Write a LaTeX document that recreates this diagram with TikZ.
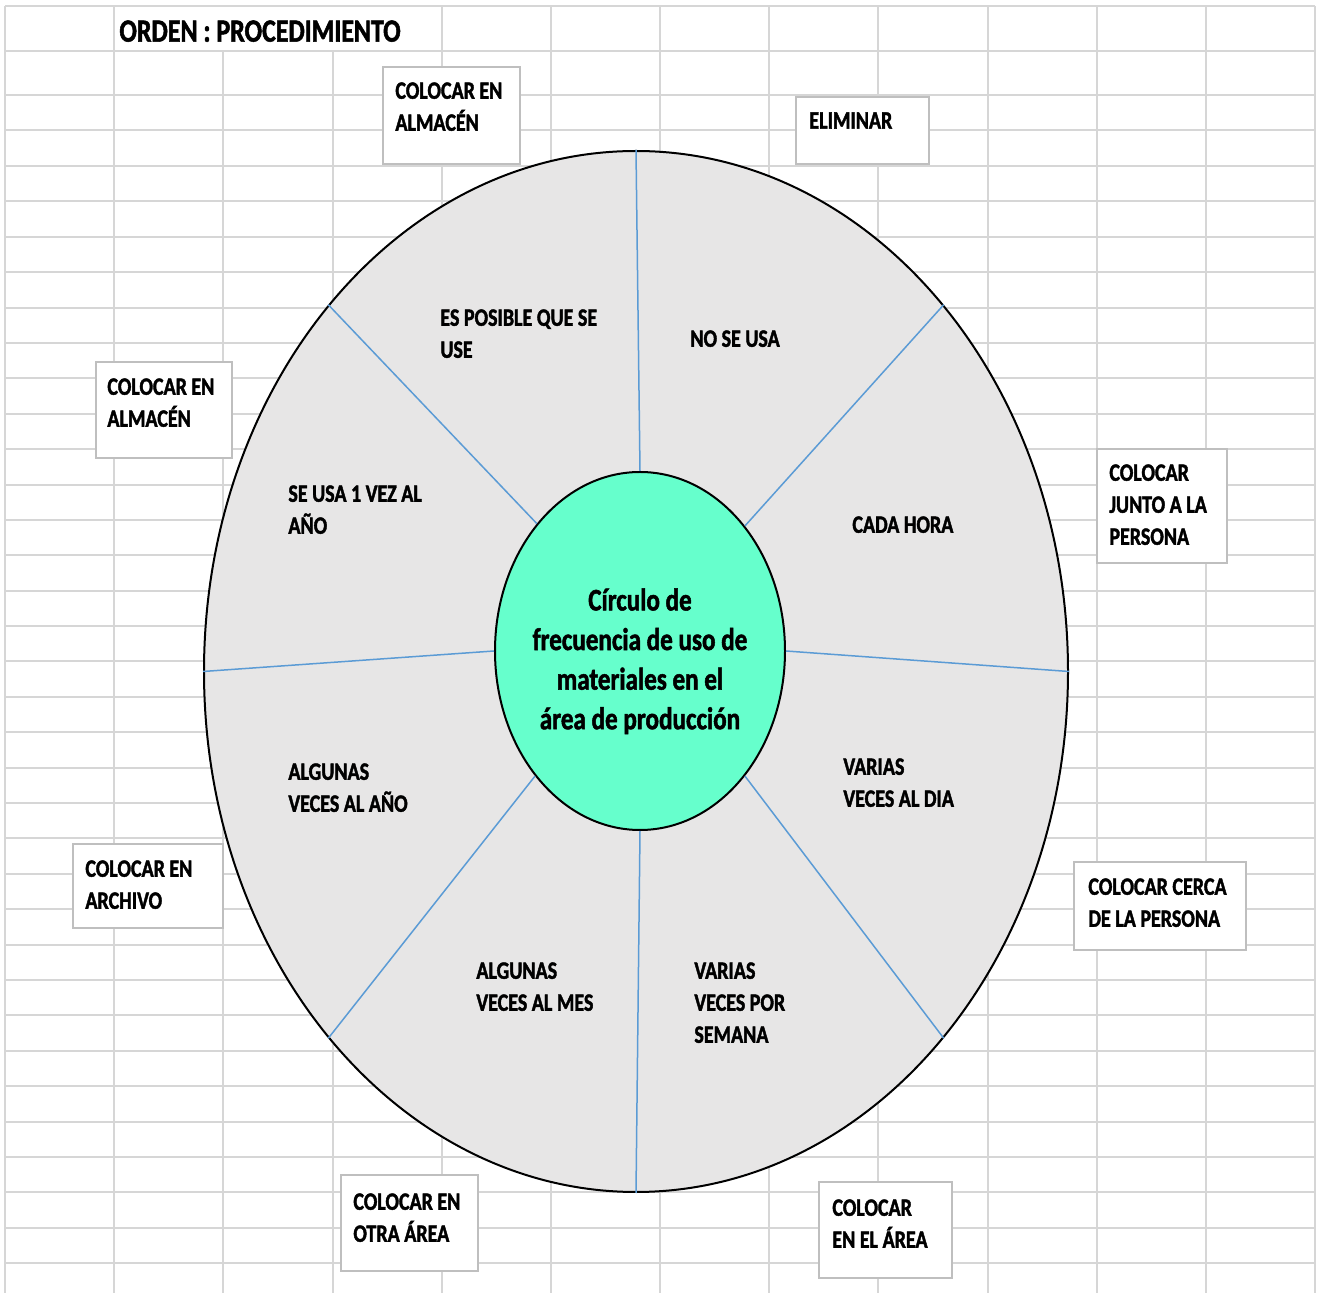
\documentclass[tikz,border=0pt]{standalone}
\usepackage{fontspec}
\setmainfont{Carlito}[FakeStretch=0.8, BoldFeatures={FakeBold=1.6}]
\usetikzlibrary{shapes.geometric,calc}
\definecolor{gridgray}{RGB}{214,214,214}
\definecolor{sectorgray}{RGB}{231,230,230}
\definecolor{hubgreen}{RGB}{102,255,204}
\definecolor{spokeblue}{RGB}{91,155,213}
\definecolor{boxgray}{RGB}{191,191,191}
\begin{document}
\begin{tikzpicture}[x=0.5pt,y=-0.5pt,
  gridline/.style={gridgray, line width=1pt},
  wheel/.style={ellipse, draw=black, line width=1pt, fill=sectorgray, inner sep=0pt},
  hub/.style={ellipse, draw=black, line width=1pt, fill=hubgreen, inner sep=0pt},
  spoke/.style={spokeblue, line width=0.75pt},
  tag/.style={draw=boxgray, line width=1pt, fill=white, inner sep=0pt, anchor=north west},
  lbl/.style={anchor=north west, inner sep=0pt, align=left,
    font=\bfseries\fontsize{12.5pt}{16pt}\selectfont},
  hubtext/.style={anchor=north, inner sep=0pt, align=center,
    font=\bfseries\fontsize{15.7pt}{19.8pt}\selectfont},
  heading/.style={anchor=north west, inner sep=0pt,
    font=\bfseries\fontsize{16.2pt}{19pt}\selectfont}
]
\useasboundingbox (0,0) rectangle (1319,1293);

% spreadsheet grid
\foreach \i in {0,1,4,5,...,12}
  \draw[gridline] ({5+109.1667*\i},6) -- ({5+109.1667*\i},1293);
\foreach \i in {2,3}
  \draw[gridline] ({5+109.1667*\i},51) -- ({5+109.1667*\i},1293);
\foreach \y in {6,51,95,130}
  \draw[gridline] (5,\y) -- (1315,\y);
\foreach \k in {0,...,31}
  \draw[gridline] (5,{166+35.39*\k}) -- (1315,{166+35.39*\k});

% heading
\node[heading] (title) at (119,20) {ORDEN : PROCEDIMIENTO};

% frequency wheel
\node[wheel, minimum width=432pt, minimum height=520.5pt] (wheel) at (636,671.5) {};
\node[hub, minimum width=145pt, minimum height=179pt] (hub) at (640,651) {};

\draw[spoke] (hub.90) -- (wheel.90);
\draw[spoke] (hub.50.7) -- (wheel.50.1);
\draw[spoke] (hub.0) -- (wheel.0);
\draw[spoke] (hub.-50.9) -- (wheel.-50.3);
\draw[spoke] (hub.270) -- (wheel.270);
\draw[spoke] (hub.230.7) -- (wheel.230.1);
\draw[spoke] (hub.180) -- (wheel.180);
\draw[spoke] (hub.129.1) -- (wheel.130.3);

\node[hubtext] (hubtxt) at (640,588)
  {Círculo de\\frecuencia de uso de\\materiales en el\\área de producción};

% sector labels
\node[lbl] (s1) at (440,309) {ES POSIBLE QUE SE\\USE};
\node[lbl] (s2) at (690,330) {NO SE USA};
\node[lbl] (s3) at (288,485) {SE USA 1 VEZ AL\\AÑO};
\node[lbl] (s4) at (852,516) {CADA HORA};
\node[lbl] (s5) at (288,763) {ALGUNAS\\VECES AL AÑO};
\node[lbl] (s6) at (843,758) {VARIAS\\VECES AL DIA};
\node[lbl] (s7) at (476,962) {ALGUNAS\\VECES AL MES};
\node[lbl] (s8) at (694,962) {VARIAS\\VECES POR\\SEMANA};

% action boxes
\node[tag, minimum width=68.5pt, minimum height=48.5pt] (b1) at (382,66) {};
\node[lbl] (t1) at ($(b1.north west)+(13,16)$) {COLOCAR EN\\ALMACÉN};
\node[tag, minimum width=66.5pt, minimum height=33.5pt] (b2) at (795,96) {};
\node[lbl] (t2) at ($(b2.north west)+(14,16)$) {ELIMINAR};
\node[tag, minimum width=68pt, minimum height=48pt] (b3) at (95,361) {};
\node[lbl] (t3) at ($(b3.north west)+(12,17)$) {COLOCAR EN\\ALMACÉN};
\node[tag, minimum width=65pt, minimum height=57pt] (b4) at (1096,448) {};
\node[lbl] (t4) at ($(b4.north west)+(13,16)$) {COLOCAR\\JUNTO A LA\\PERSONA};
\node[tag, minimum width=75pt, minimum height=42pt] (b5) at (72,843) {};
\node[lbl] (t5) at ($(b5.north west)+(13,17)$) {COLOCAR EN\\ARCHIVO};
\node[tag, minimum width=86pt, minimum height=44pt] (b6) at (1073,861) {};
\node[lbl] (t6) at ($(b6.north west)+(15,17)$) {COLOCAR CERCA\\DE LA PERSONA};
\node[tag, minimum width=68.5pt, minimum height=48pt] (b7) at (340,1174) {};
\node[lbl] (t7) at ($(b7.north west)+(13,19)$) {COLOCAR EN\\OTRA ÁREA};
\node[tag, minimum width=66.5pt, minimum height=48pt] (b8) at (818,1181) {};
\node[lbl] (t8) at ($(b8.north west)+(14,18)$) {COLOCAR\\EN EL ÁREA};
\end{tikzpicture}
\end{document}
